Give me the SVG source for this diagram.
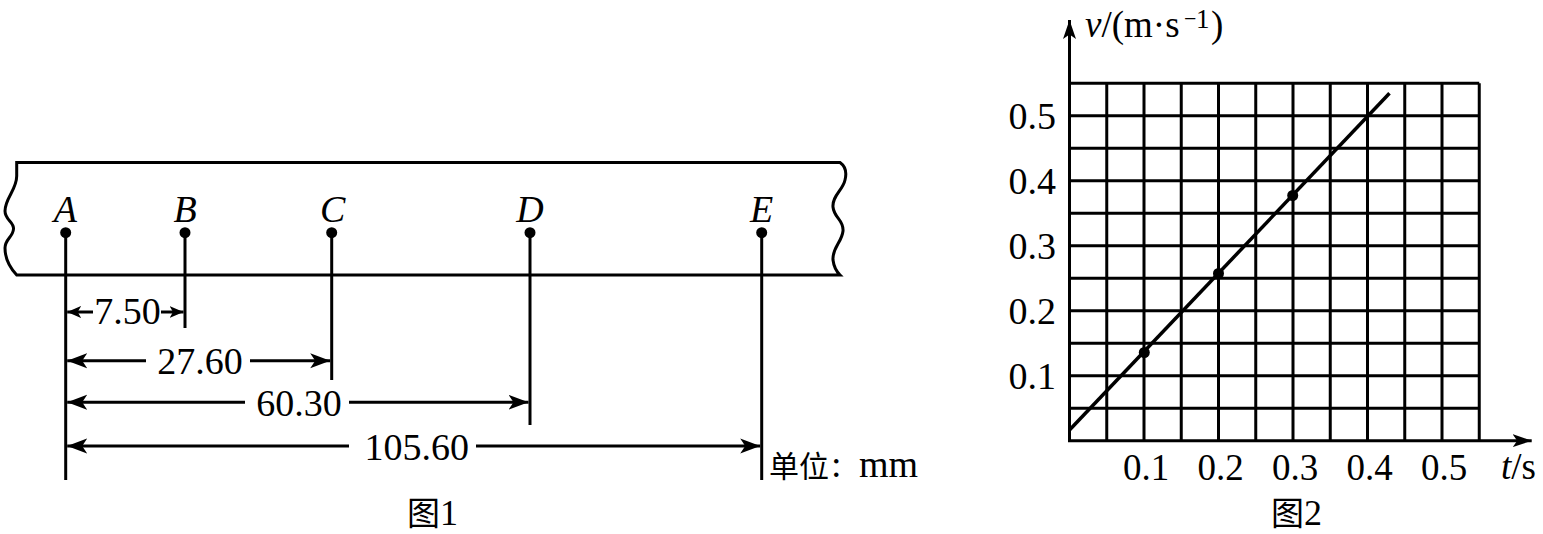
<svg xmlns="http://www.w3.org/2000/svg" width="1543" height="534" viewBox="0 0 1543 534">
<style>
.ln{stroke:#000;stroke-width:3;fill:none}
.gr{stroke:#000;stroke-width:3;fill:none}
.t{font-family:"Liberation Serif","Times New Roman",serif;fill:#000}
.it{font-style:italic}
.cjk{font-family:"Noto Sans CJK SC","Noto Sans CJK JP",sans-serif}
.dot{fill:#000}
</style>
<defs>
<marker id="ah" markerUnits="userSpaceOnUse" markerWidth="22" markerHeight="18" viewBox="0 0 22 18" refX="20" refY="9" orient="auto"><path d="M0,1.5 L20,9 L0,16.5 L5,9 Z" fill="#000"/></marker>
<marker id="ahs" markerUnits="userSpaceOnUse" markerWidth="15" markerHeight="14" viewBox="0 0 15 14" refX="14" refY="7" orient="auto"><path d="M0,1 L14,7 L0,13 L3.5,7 Z" fill="#000"/></marker>
<marker id="axa" markerUnits="userSpaceOnUse" markerWidth="20" markerHeight="16" viewBox="0 0 20 16" refX="19" refY="8" orient="auto"><path d="M0,1.5 L19,8 L0,14.5 L4.5,8 Z" fill="#000"/></marker>
</defs>

<g id="tape">
<path class="ln" d="M16.7,162.5 L840,162.5 C845,166 847,172 845,180 C843,190 832,196 833,207 C834,218 844,220 843,231 C842,242 832,248 833,260 C834,268 837,272 840,275 L16.7,275 C12,270 5,262 5,248 C5,239 13,237 13.5,229 C14,222 5,220 5,211 C5,198 16.7,190 16.7,176 Z"/>
</g>

<g id="pointA">
<line class="ln" x1="65.7" y1="232.7" x2="65.7" y2="480"/>
<circle class="dot" cx="65.7" cy="232.7" r="5.5"/>
<text class="t it" x="65.3" y="221.5" font-size="38" text-anchor="middle">A</text>
</g>
<g id="pointB">
<line class="ln" x1="185" y1="232.7" x2="185" y2="328"/>
<circle class="dot" cx="185" cy="232.7" r="5.5"/>
<text class="t it" x="185" y="221.5" font-size="38" text-anchor="middle">B</text>
</g>
<g id="pointC">
<line class="ln" x1="331.7" y1="232.7" x2="331.7" y2="380"/>
<circle class="dot" cx="331.7" cy="232.7" r="5.5"/>
<text class="t it" x="332.8" y="221.5" font-size="38" text-anchor="middle">C</text>
</g>
<g id="pointD">
<line class="ln" x1="530" y1="232.7" x2="530" y2="425"/>
<circle class="dot" cx="530" cy="232.7" r="5.5"/>
<text class="t it" x="530" y="221.5" font-size="38" text-anchor="middle">D</text>
</g>
<g id="pointE">
<line class="ln" x1="761.7" y1="232.7" x2="761.7" y2="480"/>
<circle class="dot" cx="761.7" cy="232.7" r="5.5"/>
<text class="t it" x="761.7" y="221.5" font-size="38" text-anchor="middle">E</text>
</g>

<g id="connectors">
<line class="ln" x1="93" y1="312" x2="67.2" y2="312" marker-end="url(#ahs)"/>
<line class="ln" x1="161" y1="312" x2="183.5" y2="312" marker-end="url(#ahs)"/>
<line class="ln" x1="146" y1="360.7" x2="67.2" y2="360.7" marker-end="url(#ah)"/>
<line class="ln" x1="250" y1="360.7" x2="330.2" y2="360.7" marker-end="url(#ah)"/>
<line class="ln" x1="245" y1="402.3" x2="67.2" y2="402.3" marker-end="url(#ah)"/>
<line class="ln" x1="349" y1="402.3" x2="528.5" y2="402.3" marker-end="url(#ah)"/>
<line class="ln" x1="349" y1="446" x2="67.2" y2="446" marker-end="url(#ah)"/>
<line class="ln" x1="476" y1="446" x2="760.2" y2="446" marker-end="url(#ah)"/>
</g>

<g id="dimension-labels">
<text class="t" x="127.5" y="324" font-size="38" text-anchor="middle">7.50</text>
<text class="t" x="200" y="373.5" font-size="38" text-anchor="middle">27.60</text>
<text class="t" x="299" y="415.5" font-size="38" text-anchor="middle">60.30</text>
<text class="t" x="416.7" y="459.5" font-size="38" text-anchor="middle">105.60</text>
<text class="t" y="477" font-size="38"><tspan class="cjk" x="769" font-size="30">单位</tspan><tspan x="831">:</tspan><tspan x="859">mm</tspan></text>
</g>

<g id="caption1">
<text class="t" y="525" font-size="36"><tspan class="cjk" x="407" font-size="33">图</tspan><tspan x="440">1</tspan></text>
</g>

<g id="graph">
<g class="gr">
<line x1="1106.75" y1="83.3" x2="1106.75" y2="440.7"/>
<line x1="1144" y1="83.3" x2="1144" y2="440.7"/>
<line x1="1181.25" y1="83.3" x2="1181.25" y2="440.7"/>
<line x1="1218.5" y1="83.3" x2="1218.5" y2="440.7"/>
<line x1="1255.75" y1="83.3" x2="1255.75" y2="440.7"/>
<line x1="1293" y1="83.3" x2="1293" y2="440.7"/>
<line x1="1330.25" y1="83.3" x2="1330.25" y2="440.7"/>
<line x1="1367.5" y1="83.3" x2="1367.5" y2="440.7"/>
<line x1="1404.75" y1="83.3" x2="1404.75" y2="440.7"/>
<line x1="1442" y1="83.3" x2="1442" y2="440.7"/>
<line x1="1479.25" y1="83.3" x2="1479.25" y2="440.7"/>
<line x1="1069.5" y1="83.3" x2="1479.25" y2="83.3"/>
<line x1="1069.5" y1="115.8" x2="1479.25" y2="115.8"/>
<line x1="1069.5" y1="148.3" x2="1479.25" y2="148.3"/>
<line x1="1069.5" y1="180.8" x2="1479.25" y2="180.8"/>
<line x1="1069.5" y1="213.3" x2="1479.25" y2="213.3"/>
<line x1="1069.5" y1="245.8" x2="1479.25" y2="245.8"/>
<line x1="1069.5" y1="278.3" x2="1479.25" y2="278.3"/>
<line x1="1069.5" y1="310.7" x2="1479.25" y2="310.7"/>
<line x1="1069.5" y1="343.2" x2="1479.25" y2="343.2"/>
<line x1="1069.5" y1="375.7" x2="1479.25" y2="375.7"/>
<line x1="1069.5" y1="408.2" x2="1479.25" y2="408.2"/>
</g>
<line class="ln" x1="1069.5" y1="442" x2="1069.5" y2="20" marker-end="url(#axa)"/>
<line class="ln" x1="1068" y1="440.7" x2="1531.7" y2="440.7" marker-end="url(#axa)"/>
<line x1="1069.5" y1="430" x2="1389.5" y2="93.3" stroke="#000" stroke-width="3.5"/>
<circle class="dot" cx="1144.3" cy="352.5" r="5.5"/>
<circle class="dot" cx="1218.5" cy="273.5" r="5.5"/>
<circle class="dot" cx="1292.7" cy="195.5" r="5.5"/>
<g class="t" font-size="38" text-anchor="end">
<text x="1056" y="128.5">0.5</text>
<text x="1056" y="193.5">0.4</text>
<text x="1056" y="258.5">0.3</text>
<text x="1056" y="323.5">0.2</text>
<text x="1056" y="388.5">0.1</text>
</g>
<g class="t" font-size="37" text-anchor="middle">
<text x="1146" y="480">0.1</text>
<text x="1220.5" y="480">0.2</text>
<text x="1295" y="480">0.3</text>
<text x="1369.5" y="480">0.4</text>
<text x="1444" y="480">0.5</text>
</g>
<text class="t" y="479" font-size="37"><tspan x="1501" class="it">t</tspan><tspan>/s</tspan></text>
<text class="t" y="37" font-size="37"><tspan x="1085" class="it">v</tspan><tspan>/(m·s</tspan><tspan x="1184" y="26" font-size="22">−</tspan><tspan x="1196" y="28" font-size="27">1</tspan><tspan x="1211" y="37">)</tspan></text>
</g>

<g id="caption2">
<text class="t" y="525" font-size="36"><tspan class="cjk" x="1271" font-size="33">图</tspan><tspan x="1304">2</tspan></text>
</g>
</svg>
